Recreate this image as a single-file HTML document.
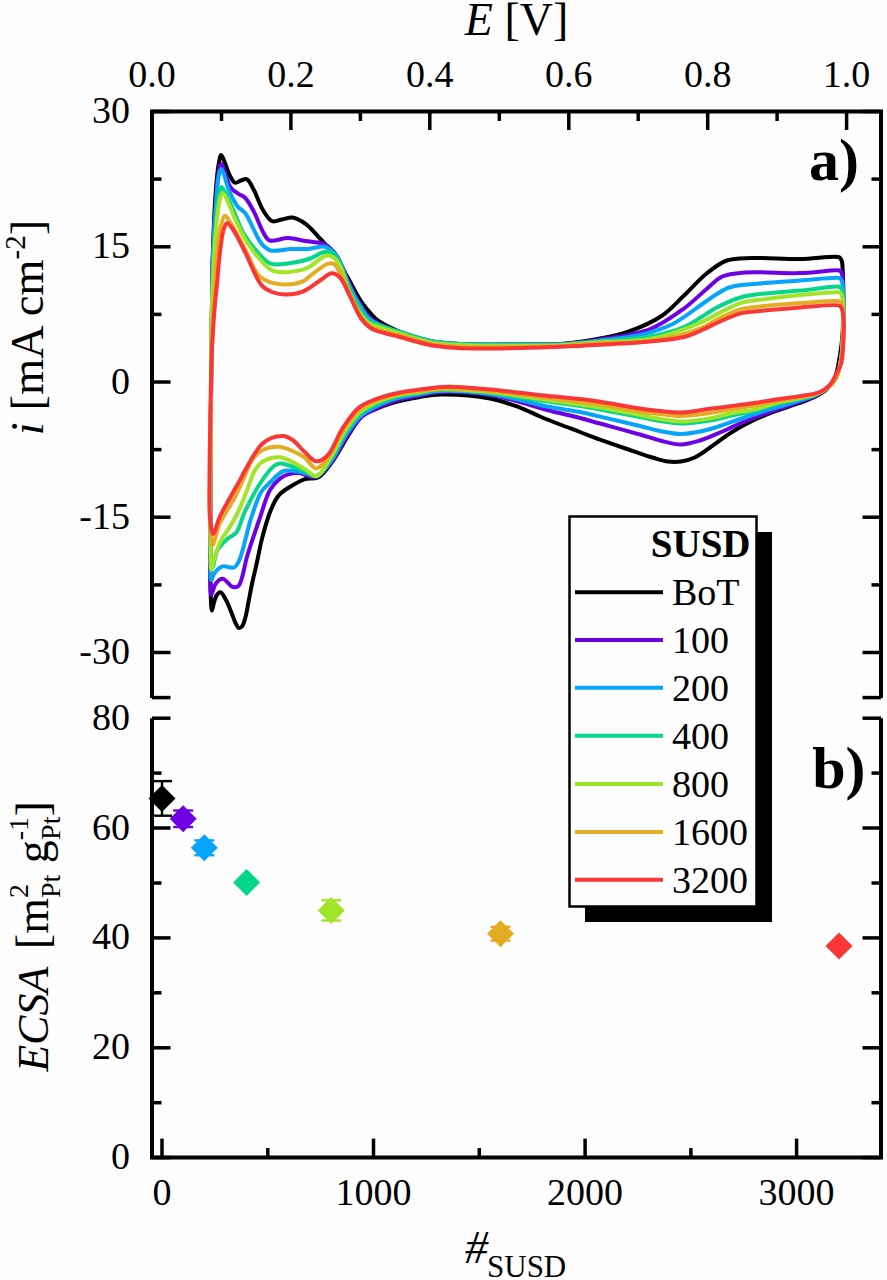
<!DOCTYPE html>
<html><head><meta charset="utf-8"><style>
html,body{margin:0;padding:0;background:#fdfdfd;width:887px;height:1280px;overflow:hidden}
svg{display:block;font-family:"Liberation Serif",serif}
</style></head><body>
<svg width="887" height="1280" viewBox="0 0 887 1280">
<rect width="887" height="1280" fill="#fdfdfd"/>
<g fill="none" stroke-width="4" stroke-linejoin="round" stroke-linecap="round">
<path stroke="#000000" d="M211.90,610.60 C211.10,610.53 210.88,599.04 210.60,592.00 C210.23,582.78 210.34,573.07 210.30,560.00 C210.23,539.34 210.38,506.67 210.50,480.00 C210.62,453.33 210.78,426.67 211.00,400.00 C211.22,373.33 211.45,345.78 211.80,320.00 C212.13,295.89 212.31,271.92 213.00,250.00 C213.61,230.56 214.37,210.56 215.50,195.00 C216.34,183.48 217.16,172.28 218.50,165.00 C219.28,160.73 220.06,155.10 221.20,155.00 C222.26,154.90 223.74,160.03 225.00,163.00 C226.51,166.57 227.63,171.54 229.50,175.00 C231.12,178.01 233.02,182.17 235.20,182.80 C236.95,183.31 239.02,181.08 241.00,180.50 C242.96,179.92 245.16,178.51 247.00,179.30 C249.71,180.46 251.74,186.14 254.10,190.50 C257.12,196.08 259.68,204.86 263.10,210.30 C265.86,214.69 268.69,219.91 272.20,221.20 C275.14,222.28 278.67,220.10 282.00,219.50 C285.47,218.87 288.95,217.00 292.60,217.50 C296.88,218.09 301.63,220.99 305.90,224.10 C310.93,227.77 315.62,233.92 320.30,238.90 C324.92,243.82 329.58,248.05 333.80,253.80 C338.67,260.42 342.83,268.99 347.30,276.80 C351.87,284.79 356.34,294.42 360.90,301.20 C364.49,306.54 368.39,311.14 371.70,314.70 C374.12,317.31 375.46,318.87 378.50,321.00 C383.17,324.27 390.55,327.95 398.00,331.00 C407.21,334.77 420.50,338.94 430.00,341.00 C437.37,342.60 443.16,342.92 450.00,343.50 C457.15,344.11 463.25,344.30 472.00,344.50 C484.92,344.79 504.73,344.60 520.00,344.50 C533.94,344.41 546.70,344.99 560.00,344.00 C573.36,343.00 587.95,340.74 600.00,338.50 C610.10,336.62 618.11,335.32 627.60,332.00 C638.51,328.19 651.77,322.52 661.50,316.00 C670.27,310.13 676.55,302.52 684.00,295.50 C691.58,288.36 698.96,279.57 706.60,273.50 C713.28,268.20 719.46,263.09 726.90,260.50 C734.47,257.87 742.05,258.38 751.70,258.00 C765.13,257.46 784.84,259.24 800.00,259.00 C813.51,258.79 833.43,255.64 838.30,257.00 C839.58,257.36 839.91,257.78 840.50,258.50 C841.21,259.36 841.63,260.50 842.00,262.00 C842.60,264.44 842.60,267.82 842.80,272.00 C843.14,278.98 843.32,290.15 843.30,300.00 C843.27,311.02 843.24,324.97 842.50,335.00 C841.94,342.61 841.18,348.17 840.00,355.00 C838.73,362.31 837.65,371.45 835.00,377.50 C832.93,382.22 830.28,385.84 827.00,389.00 C823.76,392.12 819.86,394.14 815.50,396.40 C810.36,399.06 804.12,401.18 797.90,403.50 C791.03,406.06 783.27,408.27 776.00,411.00 C768.63,413.77 761.24,416.56 754.00,420.00 C746.57,423.53 739.21,427.52 732.00,432.00 C724.53,436.65 716.71,442.95 710.00,447.50 C704.47,451.25 699.84,455.14 694.70,457.50 C690.16,459.59 685.55,460.85 681.00,461.50 C676.65,462.12 672.38,462.04 668.00,461.50 C663.39,460.93 659.39,459.57 654.00,458.00 C646.43,455.80 635.99,452.06 627.00,449.00 C617.99,445.93 608.31,442.62 600.00,439.60 C592.81,436.98 586.67,434.52 580.00,432.00 C573.34,429.48 566.65,427.08 560.00,424.50 C553.32,421.91 546.64,419.30 540.00,416.50 C533.31,413.67 527.44,410.37 520.00,407.60 C511.10,404.29 501.40,400.66 490.00,398.50 C475.58,395.77 452.90,394.21 440.00,394.50 C431.82,394.68 427.20,395.78 420.00,397.00 C411.42,398.45 400.10,400.60 392.00,403.00 C385.55,404.91 380.23,407.20 375.00,409.50 C370.32,411.56 366.01,412.54 362.00,416.00 C356.80,420.49 352.72,428.82 348.00,436.00 C342.73,444.03 337.50,454.66 332.00,462.00 C327.45,468.07 323.12,474.84 318.00,477.50 C313.95,479.61 309.31,477.78 305.00,479.10 C300.27,480.55 295.32,483.55 290.90,486.30 C286.57,489.00 282.03,491.53 278.70,495.40 C275.16,499.52 272.82,505.43 270.60,510.60 C268.45,515.60 267.04,520.79 265.50,525.90 C263.98,530.95 262.72,535.61 261.40,541.10 C259.87,547.49 258.54,554.95 257.00,562.00 C255.41,569.25 253.47,577.02 252.00,584.00 C250.67,590.29 249.63,596.27 248.50,602.00 C247.47,607.23 246.70,612.67 245.50,617.00 C244.56,620.42 243.77,624.19 242.30,626.00 C241.36,627.15 240.02,628.22 239.00,628.00 C237.71,627.73 236.57,625.00 235.50,623.00 C234.14,620.44 233.28,617.09 231.90,613.70 C230.21,609.56 228.13,603.84 226.00,600.00 C224.30,596.94 222.42,592.46 220.60,592.20 C219.24,592.00 217.56,594.01 216.50,595.50 C215.24,597.28 214.75,600.06 214.00,602.50 C213.21,605.08 212.44,610.65 211.90,610.60 Z"/>
<path stroke="#6e00e4" d="M211.30,595.00 C210.15,594.81 210.67,582.60 210.50,575.00 C210.27,564.96 210.32,553.23 210.30,540.00 C210.28,522.68 210.40,501.44 210.50,480.00 C210.62,455.25 210.78,426.67 211.00,400.00 C211.22,373.33 211.45,345.78 211.80,320.00 C212.13,295.89 212.18,271.37 213.00,250.00 C213.70,231.93 214.89,214.26 216.00,200.00 C216.84,189.31 217.39,178.46 218.70,172.00 C219.41,168.48 220.16,164.04 221.20,164.00 C222.49,163.95 224.41,172.02 226.00,176.00 C227.58,179.95 228.38,184.71 230.70,187.80 C232.79,190.58 236.21,192.37 238.80,194.10 C240.98,195.56 243.05,195.73 245.10,197.70 C248.23,200.71 251.27,206.81 254.10,212.10 C257.31,218.10 260.12,226.91 263.10,232.00 C265.14,235.49 266.06,238.93 269.20,240.30 C273.49,242.17 282.16,237.92 288.30,238.10 C294.07,238.27 299.40,240.10 305.00,241.00 C310.64,241.90 317.50,241.96 322.00,243.50 C325.29,244.62 327.55,245.96 330.00,248.00 C332.77,250.31 335.03,253.05 337.50,257.00 C341.24,262.98 344.69,273.55 348.50,281.50 C352.20,289.21 355.96,297.53 360.00,304.00 C363.36,309.38 366.90,314.50 370.50,318.00 C373.27,320.70 375.46,322.09 379.00,324.00 C383.95,326.68 390.78,329.01 398.00,331.50 C407.22,334.68 420.51,339.01 430.00,341.00 C437.38,342.54 443.16,342.92 450.00,343.50 C457.15,344.11 463.25,344.30 472.00,344.50 C484.92,344.79 504.73,344.56 520.00,344.50 C533.94,344.45 546.69,345.03 560.00,344.20 C573.36,343.37 585.96,341.79 600.00,339.50 C615.84,336.92 635.54,334.78 650.20,329.00 C663.07,323.92 674.12,315.68 684.00,308.50 C692.58,302.26 699.70,294.72 706.60,289.00 C712.26,284.31 716.19,279.26 722.30,276.50 C728.83,273.55 735.67,273.26 744.90,272.50 C759.20,271.32 783.41,273.63 800.00,273.10 C813.71,272.66 832.01,269.79 837.50,270.30 C839.08,270.45 839.73,270.47 840.50,271.10 C841.36,271.81 841.79,273.15 842.20,274.60 C842.79,276.68 842.81,279.42 843.00,282.60 C843.27,287.28 843.27,293.20 843.30,300.00 C843.34,309.65 843.47,324.32 843.00,335.00 C842.60,344.04 842.35,352.41 841.00,360.00 C839.84,366.55 838.60,373.10 836.00,378.00 C833.82,382.11 830.86,385.07 827.50,388.00 C823.93,391.12 820.05,393.51 815.00,396.00 C808.25,399.33 798.72,401.90 790.00,405.00 C780.46,408.39 768.96,412.14 760.00,415.50 C752.63,418.26 746.64,420.68 740.00,423.50 C733.30,426.34 726.70,429.66 720.00,432.50 C713.36,435.32 706.67,438.48 700.00,440.50 C693.67,442.42 687.50,444.44 681.00,444.50 C674.18,444.57 666.87,442.18 660.00,440.50 C653.21,438.84 647.83,436.75 640.00,434.50 C628.97,431.33 611.05,426.54 600.00,423.50 C592.19,421.35 587.51,419.94 580.00,418.00 C570.39,415.51 557.42,412.80 547.00,410.00 C537.52,407.45 529.27,404.45 520.00,402.00 C510.30,399.43 501.35,396.65 490.00,395.00 C475.53,392.89 452.88,391.27 440.00,392.00 C431.80,392.47 427.09,394.13 420.00,395.50 C411.89,397.07 401.88,398.53 394.00,401.00 C387.06,403.17 380.66,406.19 375.00,409.00 C370.17,411.40 366.15,412.87 362.00,416.50 C356.69,421.15 351.84,428.88 347.00,436.00 C341.63,443.90 336.97,454.84 331.50,462.00 C327.04,467.84 321.49,474.56 317.50,476.50 C315.33,477.55 313.91,477.34 311.60,477.10 C308.14,476.75 302.99,473.48 298.90,473.10 C295.22,472.76 291.45,473.40 288.20,474.40 C285.20,475.32 282.67,476.52 280.00,478.60 C276.57,481.27 272.94,485.03 270.00,490.00 C265.91,496.91 263.45,507.60 260.00,517.50 C255.99,529.01 251.22,543.06 247.50,555.00 C244.14,565.79 242.49,582.40 238.50,586.00 C236.84,587.50 235.00,587.49 233.00,587.00 C229.91,586.24 225.66,578.84 222.50,578.80 C219.94,578.77 217.31,581.61 215.50,584.00 C213.40,586.78 212.18,595.14 211.30,595.00 Z"/>
<path stroke="#06a4fa" d="M211.30,580.00 C210.14,579.77 210.67,567.34 210.50,560.00 C210.29,551.01 210.32,541.27 210.30,530.00 C210.28,515.45 210.40,498.62 210.50,480.00 C210.62,456.45 210.78,426.67 211.00,400.00 C211.22,373.33 211.44,345.28 211.80,320.00 C212.12,297.21 212.21,275.24 213.00,255.00 C213.70,237.23 214.90,219.40 216.00,205.00 C216.84,194.02 217.31,182.34 218.70,176.00 C219.41,172.77 220.10,168.91 221.20,168.90 C223.20,168.89 226.69,185.55 229.80,192.30 C232.34,197.80 234.94,203.06 237.90,206.70 C240.15,209.47 242.82,210.11 245.10,213.00 C248.35,217.12 251.63,225.38 254.10,230.20 C255.88,233.67 256.95,236.47 258.60,239.20 C260.11,241.69 261.49,244.12 263.50,246.00 C265.52,247.89 267.52,249.70 270.70,250.50 C275.65,251.74 284.51,249.40 291.20,249.10 C297.60,248.81 304.21,249.21 310.00,248.70 C315.03,248.25 320.21,245.91 324.00,246.50 C326.82,246.94 328.80,248.26 331.00,250.00 C333.70,252.13 336.15,255.04 338.50,259.00 C341.99,264.88 344.46,275.26 348.00,283.00 C351.47,290.59 355.57,298.61 359.50,305.00 C362.77,310.32 365.82,315.65 369.50,319.00 C372.44,321.67 375.20,322.72 379.00,324.50 C384.16,326.92 390.80,329.11 398.00,331.50 C407.24,334.57 420.51,339.01 430.00,341.00 C437.38,342.54 443.16,342.92 450.00,343.50 C457.15,344.11 463.25,344.30 472.00,344.50 C484.92,344.79 504.73,344.52 520.00,344.50 C533.94,344.48 546.68,345.06 560.00,344.40 C573.35,343.73 586.68,342.06 600.00,340.50 C613.35,338.93 627.47,337.94 640.00,335.00 C651.58,332.28 662.05,329.28 672.70,324.00 C684.30,318.25 696.37,307.53 706.60,301.00 C714.79,295.77 720.67,290.43 729.10,287.50 C738.29,284.30 749.02,284.61 760.00,283.50 C772.46,282.24 786.88,281.57 800.00,280.60 C812.70,279.67 832.01,277.29 837.50,277.80 C839.08,277.95 839.73,277.97 840.50,278.60 C841.36,279.31 841.79,280.65 842.20,282.10 C842.79,284.18 842.81,286.34 843.00,290.10 C843.44,298.98 843.51,322.22 843.00,335.00 C842.62,344.55 842.35,352.41 841.00,360.00 C839.84,366.55 838.60,373.10 836.00,378.00 C833.82,382.11 830.88,385.13 827.50,388.00 C823.94,391.02 820.04,393.22 815.00,395.50 C808.24,398.56 798.73,400.80 790.00,403.50 C780.47,406.45 768.98,409.70 760.00,412.50 C752.65,414.80 746.65,416.75 740.00,419.00 C733.32,421.25 726.70,423.91 720.00,426.00 C713.37,428.07 706.63,430.16 700.00,431.50 C693.63,432.79 687.49,434.04 681.00,434.00 C674.17,433.96 666.88,432.35 660.00,431.00 C653.22,429.67 647.82,427.90 640.00,426.00 C628.96,423.32 611.05,419.17 600.00,416.60 C592.19,414.78 587.52,413.49 580.00,412.00 C570.40,410.10 557.41,408.62 547.00,406.50 C537.51,404.57 529.26,402.04 520.00,400.00 C510.28,397.86 501.33,395.47 490.00,394.00 C475.51,392.12 452.89,390.43 440.00,391.00 C431.81,391.36 427.09,392.79 420.00,394.00 C411.89,395.39 401.88,396.61 394.00,399.00 C387.05,401.11 380.75,404.06 375.00,407.00 C369.87,409.62 365.40,411.56 361.00,415.50 C355.60,420.33 350.78,427.86 346.00,435.00 C340.73,442.89 336.35,453.77 331.00,461.00 C326.57,466.98 322.27,474.44 317.00,476.00 C312.39,477.36 307.13,473.04 301.80,472.20 C296.07,471.30 289.01,469.26 283.70,471.00 C278.42,472.73 273.96,478.73 270.00,482.50 C266.63,485.71 263.86,487.74 261.20,492.00 C257.33,498.19 254.57,507.77 251.30,517.50 C247.08,530.05 242.84,553.51 238.80,561.30 C237.11,564.56 236.14,566.53 233.80,567.50 C231.00,568.66 225.76,565.31 222.50,566.30 C219.37,567.25 216.40,570.51 214.50,573.00 C212.87,575.14 212.02,580.14 211.30,580.00 Z"/>
<path stroke="#06d68a" d="M212.50,567.50 C211.34,567.39 211.17,555.09 210.80,548.00 C210.35,539.52 210.37,530.16 210.30,520.00 C210.22,507.85 210.41,495.62 210.50,480.00 C210.62,457.91 210.78,426.67 211.00,400.00 C211.22,373.33 211.33,344.75 211.80,320.00 C212.21,298.56 212.62,278.56 213.50,260.00 C214.26,243.92 215.37,227.16 216.50,215.00 C217.27,206.67 217.78,199.10 219.00,194.00 C219.73,190.95 220.43,187.01 221.60,186.90 C222.98,186.77 225.09,192.21 227.00,195.90 C229.80,201.32 233.24,210.11 236.10,216.60 C238.64,222.36 240.02,227.35 243.30,232.90 C247.25,239.59 253.88,248.03 259.00,253.50 C262.97,257.74 265.63,261.96 270.70,263.70 C277.12,265.90 288.48,263.43 295.60,262.30 C301.10,261.43 305.31,260.19 310.00,258.50 C314.78,256.78 319.76,252.69 324.00,252.00 C327.25,251.47 330.56,251.51 333.00,253.00 C335.67,254.62 336.97,258.18 339.00,262.00 C342.09,267.79 345.15,277.46 348.50,285.00 C351.82,292.46 355.22,300.71 359.00,307.00 C362.14,312.22 365.23,317.46 369.00,320.50 C372.05,322.95 375.09,323.46 379.00,325.00 C384.29,327.09 390.82,329.21 398.00,331.50 C407.26,334.46 420.51,339.01 430.00,341.00 C437.38,342.54 443.16,342.92 450.00,343.50 C457.15,344.11 463.25,344.29 472.00,344.50 C484.92,344.81 504.73,344.58 520.00,344.60 C533.94,344.61 546.68,345.12 560.00,344.60 C573.34,344.08 585.93,342.75 600.00,341.50 C615.75,340.10 635.04,339.32 650.00,336.50 C662.54,334.14 672.98,331.70 684.00,327.00 C695.62,322.04 707.50,312.18 717.80,307.00 C725.94,302.91 733.02,299.68 740.40,297.50 C747.05,295.53 752.29,295.01 760.00,294.00 C770.95,292.56 786.89,291.86 800.00,290.60 C812.71,289.38 832.00,286.18 837.50,286.60 C839.08,286.72 839.73,286.77 840.50,287.40 C841.36,288.11 841.79,289.45 842.20,290.90 C842.79,292.98 842.82,295.27 843.00,298.90 C843.38,306.60 843.44,324.08 843.00,335.00 C842.64,344.10 842.35,352.41 841.00,360.00 C839.84,366.55 838.60,373.10 836.00,378.00 C833.82,382.11 830.90,385.20 827.50,388.00 C823.95,390.92 819.63,393.20 815.00,395.00 C809.89,396.99 804.03,397.60 798.00,399.00 C791.14,400.59 783.29,402.02 776.00,404.00 C768.62,406.01 761.38,409.08 754.00,411.00 C746.72,412.90 739.32,413.92 732.00,415.50 C724.66,417.08 717.88,419.20 710.00,420.50 C701.04,421.98 689.88,423.57 681.00,423.50 C673.43,423.44 666.89,422.10 660.00,421.00 C653.23,419.92 647.82,418.51 640.00,417.00 C628.96,414.86 611.05,411.50 600.00,409.50 C592.19,408.09 587.65,407.20 580.00,406.00 C569.76,404.39 554.78,402.56 544.00,401.00 C535.19,399.73 528.45,398.65 520.00,397.40 C510.56,396.00 501.30,394.17 490.00,393.00 C475.48,391.50 452.89,389.43 440.00,390.00 C431.81,390.36 427.10,391.85 420.00,393.00 C411.89,394.31 401.89,395.29 394.00,397.50 C387.06,399.45 380.79,402.09 375.00,405.00 C369.71,407.66 365.04,409.94 360.50,414.00 C355.09,418.83 350.23,425.90 345.50,433.00 C340.16,441.02 335.84,452.41 330.50,460.00 C326.07,466.30 321.70,474.79 316.50,476.00 C312.00,477.05 307.24,471.82 301.80,469.90 C295.30,467.61 284.92,463.27 280.00,463.50 C277.42,463.62 276.30,464.26 274.20,465.80 C270.36,468.62 265.32,475.57 261.00,482.00 C255.54,490.12 249.33,502.21 245.00,511.30 C241.41,518.83 240.01,527.81 236.30,532.50 C233.75,535.72 230.39,536.21 227.50,538.80 C224.10,541.85 219.97,545.52 217.50,550.00 C214.78,554.93 213.62,567.61 212.50,567.50 Z"/>
<path stroke="#a2e428" d="M211.30,570.00 C210.41,569.90 210.67,553.71 210.50,545.00 C210.32,535.46 210.30,525.39 210.30,515.00 C210.29,503.78 210.42,494.04 210.50,480.00 C210.63,458.77 210.83,426.67 211.00,400.00 C211.17,373.33 210.96,343.54 211.50,320.00 C211.93,301.38 212.69,285.73 213.50,270.00 C214.22,255.92 214.91,242.13 216.00,230.00 C216.92,219.82 217.74,208.69 219.30,202.00 C220.21,198.11 220.92,193.09 222.50,193.00 C225.36,192.85 232.01,212.86 236.10,221.20 C239.38,227.88 241.59,233.40 245.10,239.20 C248.70,245.15 252.79,251.13 257.50,256.40 C262.27,261.74 266.83,268.57 273.60,271.00 C281.47,273.82 296.54,271.09 302.90,269.60 C306.17,268.84 307.23,268.01 310.00,266.50 C314.39,264.10 321.64,256.39 326.20,255.70 C329.15,255.25 331.78,256.46 334.00,258.00 C336.46,259.71 338.11,262.46 340.00,266.00 C342.94,271.53 344.96,281.59 348.00,289.00 C350.97,296.24 354.29,304.08 358.00,310.00 C361.08,314.91 364.17,319.64 368.00,322.50 C371.30,324.97 374.80,325.48 379.00,327.00 C384.44,328.97 390.84,330.81 398.00,333.00 C407.27,335.84 420.50,340.63 430.00,342.50 C437.37,343.95 443.17,344.00 450.00,344.50 C457.15,345.02 463.25,345.27 472.00,345.50 C484.92,345.83 504.73,345.87 520.00,345.80 C533.94,345.74 546.68,345.78 560.00,345.20 C573.34,344.62 585.92,343.27 600.00,342.30 C615.74,341.21 633.91,341.97 650.00,339.00 C665.65,336.11 680.44,330.87 695.30,325.00 C710.58,318.97 728.22,306.99 740.40,303.10 C748.07,300.65 752.30,300.91 760.00,299.80 C770.97,298.22 786.87,296.28 800.00,295.00 C812.69,293.77 832.01,291.69 837.50,292.20 C839.08,292.35 839.73,292.37 840.50,293.00 C841.36,293.71 841.79,295.05 842.20,296.50 C842.79,298.58 842.82,300.97 843.00,304.50 C843.34,311.38 843.39,325.35 843.00,335.00 C842.65,343.75 842.35,352.41 841.00,360.00 C839.84,366.55 838.60,373.10 836.00,378.00 C833.82,382.11 830.92,385.28 827.50,388.00 C823.96,390.82 819.60,392.79 815.00,394.50 C809.87,396.40 804.04,397.17 798.00,398.50 C791.15,400.01 783.29,401.16 776.00,403.00 C768.62,404.86 761.39,407.93 754.00,409.60 C746.72,411.25 739.30,411.54 732.00,413.00 C724.63,414.47 717.89,417.02 710.00,418.40 C701.05,419.97 689.89,421.55 681.00,421.50 C673.43,421.45 666.89,420.10 660.00,419.00 C653.23,417.92 647.82,416.51 640.00,415.00 C628.96,412.86 611.06,409.37 600.00,407.50 C592.20,406.18 587.64,405.60 580.00,404.50 C569.75,403.02 554.79,401.04 544.00,399.50 C535.19,398.25 528.45,397.18 520.00,396.00 C510.56,394.68 501.29,393.09 490.00,392.00 C475.47,390.60 452.89,388.43 440.00,389.00 C431.81,389.36 427.10,390.92 420.00,392.00 C411.90,393.23 401.90,393.96 394.00,396.00 C387.07,397.79 380.84,400.20 375.00,403.00 C369.57,405.60 364.66,407.90 360.00,412.00 C354.52,416.82 349.72,423.86 345.00,431.00 C339.63,439.12 335.21,450.50 330.00,458.50 C325.59,465.27 320.88,475.50 316.30,476.30 C312.97,476.88 310.51,472.25 306.30,469.90 C299.70,466.22 288.07,458.07 280.00,457.30 C273.56,456.68 266.48,459.09 262.00,462.00 C258.29,464.41 256.14,468.26 254.00,472.00 C251.76,475.90 250.75,480.48 249.00,485.00 C247.09,489.94 245.30,495.08 243.00,500.50 C240.39,506.67 237.57,513.38 234.00,520.00 C230.04,527.35 223.47,535.29 220.00,542.50 C217.10,548.54 215.32,554.95 213.80,560.00 C212.66,563.77 211.87,570.06 211.30,570.00 Z"/>
<path stroke="#e4ac22" d="M212.50,545.00 C211.00,544.83 210.76,532.05 210.30,525.00 C209.79,517.14 209.83,509.31 209.80,500.00 C209.76,488.23 210.12,474.68 210.30,460.00 C210.52,442.02 210.66,420.77 211.00,400.00 C211.37,377.56 211.74,351.37 212.50,330.00 C213.15,311.93 214.03,294.54 215.00,280.00 C215.75,268.72 216.49,259.21 217.50,250.00 C218.37,242.09 219.01,234.21 220.50,228.00 C221.64,223.24 222.94,216.03 224.80,215.70 C226.27,215.44 228.00,219.07 230.00,222.00 C233.80,227.55 239.41,238.77 244.30,247.60 C249.52,257.03 253.30,270.87 260.40,276.90 C266.14,281.78 273.94,283.46 281.00,284.20 C288.10,284.94 297.78,283.38 302.90,281.30 C306.14,279.98 307.08,278.10 310.00,276.00 C314.54,272.74 323.00,265.16 327.60,263.80 C330.11,263.06 332.16,262.97 334.00,264.00 C336.33,265.30 337.60,268.97 339.60,272.50 C342.60,277.78 346.16,286.04 349.50,293.00 C352.96,300.20 356.16,309.13 360.00,315.00 C362.96,319.54 365.84,323.30 369.50,326.00 C372.90,328.50 376.72,329.58 381.00,331.00 C386.05,332.68 391.46,333.36 398.00,335.00 C407.01,337.26 420.53,341.66 430.00,343.50 C437.39,344.94 443.16,345.42 450.00,346.00 C457.15,346.61 463.25,346.80 472.00,347.00 C484.92,347.29 504.73,347.19 520.00,347.00 C533.94,346.83 546.67,346.62 560.00,346.00 C573.34,345.38 585.92,344.10 600.00,343.30 C615.73,342.41 633.45,343.42 650.00,341.00 C666.79,338.54 687.07,333.39 700.00,328.50 C708.80,325.17 714.24,320.75 721.20,317.50 C727.69,314.47 733.85,311.34 740.40,309.50 C746.79,307.71 752.30,307.42 760.00,306.50 C770.96,305.20 786.88,304.03 800.00,303.10 C812.70,302.21 832.01,300.44 837.50,301.00 C839.08,301.16 839.73,301.17 840.50,301.80 C841.36,302.51 841.79,303.85 842.20,305.30 C842.79,307.38 842.83,309.98 843.00,313.30 C843.27,318.76 843.30,327.52 843.00,335.00 C842.68,343.04 842.35,352.41 841.00,360.00 C839.84,366.55 838.60,373.10 836.00,378.00 C833.82,382.11 830.94,385.35 827.50,388.00 C823.97,390.72 819.59,392.45 815.00,394.00 C809.86,395.73 804.04,396.40 798.00,397.50 C791.15,398.75 783.32,399.67 776.00,401.00 C768.65,402.34 761.35,404.16 754.00,405.50 C746.68,406.83 739.33,407.75 732.00,409.00 C724.66,410.25 717.86,411.88 710.00,413.00 C701.02,414.28 689.89,415.96 681.00,416.00 C673.44,416.03 666.91,414.76 660.00,414.00 C653.25,413.26 647.79,412.67 640.00,411.50 C628.94,409.84 611.06,406.16 600.00,404.50 C592.21,403.33 587.64,402.95 580.00,402.00 C569.75,400.72 554.79,398.85 544.00,397.50 C535.19,396.40 528.45,395.52 520.00,394.50 C510.56,393.36 500.85,391.96 490.00,391.00 C477.19,389.87 460.58,388.31 448.00,388.50 C437.72,388.65 428.96,389.95 420.00,391.00 C411.68,391.98 403.67,392.77 396.00,394.50 C388.70,396.15 381.33,398.23 375.00,401.00 C369.29,403.50 364.32,405.89 359.50,410.00 C353.86,414.81 348.87,421.81 344.00,429.00 C338.44,437.21 333.94,450.03 328.50,457.00 C324.57,462.03 320.30,468.38 316.30,468.40 C312.47,468.41 308.71,460.77 305.00,458.00 C301.90,455.68 299.43,454.18 295.80,452.50 C291.11,450.34 284.31,447.26 278.90,446.80 C274.09,446.39 269.20,447.17 265.00,449.00 C260.72,450.86 256.84,453.83 253.50,458.00 C249.18,463.38 246.31,473.03 243.00,480.00 C240.01,486.30 237.87,491.58 234.50,498.00 C230.44,505.73 223.75,514.75 220.00,523.00 C216.63,530.40 214.11,545.18 212.50,545.00 Z"/>
<path stroke="#fa3636" d="M213.10,534.00 C211.52,533.85 210.66,524.15 210.00,517.50 C209.01,507.56 209.50,493.96 209.50,480.00 C209.50,462.34 209.97,440.00 210.30,420.00 C210.63,400.00 210.92,376.56 211.50,360.00 C211.91,348.28 212.39,339.64 213.00,330.00 C213.57,321.02 214.25,312.49 215.00,304.00 C215.72,295.84 216.76,287.07 217.40,280.00 C217.90,274.42 218.07,270.44 218.60,265.00 C219.24,258.47 220.17,249.82 221.10,243.50 C221.84,238.47 222.26,233.64 223.50,230.00 C224.42,227.29 225.53,223.55 227.00,223.30 C228.40,223.06 230.18,225.64 232.00,228.00 C235.52,232.55 239.92,242.12 244.30,250.50 C249.73,260.88 255.87,279.07 261.90,285.70 C265.22,289.34 268.25,290.54 272.00,292.00 C276.00,293.56 280.55,294.45 285.30,294.50 C290.75,294.56 297.23,293.79 302.90,291.60 C309.10,289.20 315.57,283.32 320.80,280.00 C324.84,277.44 328.20,273.47 331.60,273.30 C334.48,273.15 337.25,274.83 339.80,277.30 C343.85,281.21 347.04,290.72 350.60,297.60 C354.24,304.62 357.42,313.59 361.40,319.00 C364.36,323.02 367.17,325.88 370.90,328.20 C374.79,330.61 379.86,331.61 384.40,333.00 C388.89,334.37 392.51,335.07 398.00,336.50 C406.42,338.70 420.53,343.16 430.00,345.00 C437.39,346.44 443.16,346.92 450.00,347.50 C457.15,348.11 463.25,348.35 472.00,348.50 C484.92,348.73 504.73,348.31 520.00,348.00 C533.94,347.72 546.67,347.33 560.00,346.80 C573.34,346.27 585.91,345.62 600.00,344.80 C615.79,343.89 635.14,343.00 650.20,341.50 C662.60,340.27 674.78,339.35 684.00,337.00 C690.72,335.29 695.31,332.89 700.90,330.50 C706.58,328.07 711.64,325.17 717.80,322.50 C724.99,319.38 733.97,314.99 741.50,313.10 C747.94,311.49 752.65,311.74 760.00,311.00 C770.79,309.92 786.80,308.44 800.00,307.50 C812.90,306.58 833.17,304.21 838.30,305.40 C839.70,305.73 840.14,306.05 840.80,306.80 C841.63,307.75 842.05,309.15 842.50,311.00 C843.29,314.26 843.65,319.84 843.80,325.00 C843.99,331.35 843.57,339.64 843.10,346.30 C842.68,352.21 842.67,358.06 841.30,363.00 C840.11,367.27 837.88,370.73 836.00,374.40 C834.18,377.96 832.82,381.80 830.20,384.70 C827.50,387.70 824.22,390.14 819.90,392.00 C814.14,394.48 805.24,395.15 797.90,396.40 C790.61,397.64 783.30,398.40 776.00,399.50 C768.67,400.60 761.34,401.92 754.00,403.00 C746.67,404.08 739.34,405.03 732.00,406.00 C724.67,406.97 717.84,407.79 710.00,408.80 C701.00,409.96 689.90,412.36 681.00,412.60 C673.45,412.80 666.91,411.69 660.00,411.00 C653.24,410.32 647.80,409.64 640.00,408.50 C628.94,406.88 611.06,403.47 600.00,401.80 C592.20,400.62 587.65,400.00 580.00,399.10 C569.76,397.90 554.78,396.67 544.00,395.50 C535.19,394.55 528.45,393.64 520.00,392.70 C510.56,391.65 500.82,390.43 490.00,389.50 C477.30,388.41 461.03,386.62 448.50,386.80 C438.10,386.95 428.89,388.38 420.00,389.50 C412.12,390.49 405.22,391.35 397.80,393.00 C390.12,394.71 381.56,397.01 374.70,399.70 C368.82,402.00 363.77,403.66 358.90,407.60 C353.07,412.32 348.08,419.98 343.10,427.40 C337.46,435.81 333.00,450.35 327.30,455.80 C323.80,459.15 319.96,461.71 316.30,461.30 C312.09,460.83 307.69,454.59 303.70,451.00 C299.79,447.48 296.48,442.52 292.60,440.00 C289.39,437.91 286.49,436.17 282.60,436.10 C277.25,436.00 269.07,438.40 263.40,442.80 C256.23,448.37 249.54,462.97 245.40,469.90 C242.94,474.01 242.39,475.60 240.00,480.00 C235.46,488.37 224.72,506.22 220.00,516.30 C216.81,523.13 214.78,534.16 213.10,534.00 Z"/>
</g>
<g stroke="#000" stroke-width="4" fill="none" stroke-linecap="butt">
<path d="M152,698 L152,111.5 L881,111.5 L881,698" stroke-linejoin="miter"/>
<line x1="152.0" y1="111.5" x2="152.0" y2="130.0" stroke-width="3.5"/>
<line x1="221.5" y1="111.5" x2="221.5" y2="121.0" stroke-width="3.5"/>
<line x1="290.9" y1="111.5" x2="290.9" y2="130.0" stroke-width="3.5"/>
<line x1="360.4" y1="111.5" x2="360.4" y2="121.0" stroke-width="3.5"/>
<line x1="429.8" y1="111.5" x2="429.8" y2="130.0" stroke-width="3.5"/>
<line x1="499.3" y1="111.5" x2="499.3" y2="121.0" stroke-width="3.5"/>
<line x1="568.8" y1="111.5" x2="568.8" y2="130.0" stroke-width="3.5"/>
<line x1="638.2" y1="111.5" x2="638.2" y2="121.0" stroke-width="3.5"/>
<line x1="707.7" y1="111.5" x2="707.7" y2="130.0" stroke-width="3.5"/>
<line x1="777.1" y1="111.5" x2="777.1" y2="121.0" stroke-width="3.5"/>
<line x1="846.6" y1="111.5" x2="846.6" y2="130.0" stroke-width="3.5"/>
<line x1="152" y1="652.5" x2="170.5" y2="652.5" stroke-width="3.5"/>
<line x1="881" y1="652.5" x2="862.5" y2="652.5" stroke-width="3.5"/>
<line x1="152" y1="584.9" x2="161.5" y2="584.9" stroke-width="3.5"/>
<line x1="881" y1="584.9" x2="871.5" y2="584.9" stroke-width="3.5"/>
<line x1="152" y1="517.2" x2="170.5" y2="517.2" stroke-width="3.5"/>
<line x1="881" y1="517.2" x2="862.5" y2="517.2" stroke-width="3.5"/>
<line x1="152" y1="449.6" x2="161.5" y2="449.6" stroke-width="3.5"/>
<line x1="881" y1="449.6" x2="871.5" y2="449.6" stroke-width="3.5"/>
<line x1="152" y1="382.0" x2="170.5" y2="382.0" stroke-width="3.5"/>
<line x1="881" y1="382.0" x2="862.5" y2="382.0" stroke-width="3.5"/>
<line x1="152" y1="314.4" x2="161.5" y2="314.4" stroke-width="3.5"/>
<line x1="881" y1="314.4" x2="871.5" y2="314.4" stroke-width="3.5"/>
<line x1="152" y1="246.8" x2="170.5" y2="246.8" stroke-width="3.5"/>
<line x1="881" y1="246.8" x2="862.5" y2="246.8" stroke-width="3.5"/>
<line x1="152" y1="179.1" x2="161.5" y2="179.1" stroke-width="3.5"/>
<line x1="881" y1="179.1" x2="871.5" y2="179.1" stroke-width="3.5"/>
<line x1="152" y1="111.5" x2="170.5" y2="111.5" stroke-width="3.5"/>
<line x1="881" y1="111.5" x2="862.5" y2="111.5" stroke-width="3.5"/>
<line x1="152" y1="697.6" x2="170.5" y2="697.6" stroke-width="3.5"/>
<line x1="881" y1="697.6" x2="862.5" y2="697.6" stroke-width="3.5"/>
</g>
<g stroke="#000" stroke-width="4" fill="none">
<path d="M152,718.3 L152,1157.6 L881,1157.6 L881,718.3" stroke-linejoin="miter"/>
<line x1="152" y1="1157.6" x2="170.5" y2="1157.6" stroke-width="3.5"/>
<line x1="881" y1="1157.6" x2="862.5" y2="1157.6" stroke-width="3.5"/>
<line x1="152" y1="1102.7" x2="161.5" y2="1102.7" stroke-width="3.5"/>
<line x1="881" y1="1102.7" x2="871.5" y2="1102.7" stroke-width="3.5"/>
<line x1="152" y1="1047.8" x2="170.5" y2="1047.8" stroke-width="3.5"/>
<line x1="881" y1="1047.8" x2="862.5" y2="1047.8" stroke-width="3.5"/>
<line x1="152" y1="992.8" x2="161.5" y2="992.8" stroke-width="3.5"/>
<line x1="881" y1="992.8" x2="871.5" y2="992.8" stroke-width="3.5"/>
<line x1="152" y1="937.9" x2="170.5" y2="937.9" stroke-width="3.5"/>
<line x1="881" y1="937.9" x2="862.5" y2="937.9" stroke-width="3.5"/>
<line x1="152" y1="883.0" x2="161.5" y2="883.0" stroke-width="3.5"/>
<line x1="881" y1="883.0" x2="871.5" y2="883.0" stroke-width="3.5"/>
<line x1="152" y1="828.0" x2="170.5" y2="828.0" stroke-width="3.5"/>
<line x1="881" y1="828.0" x2="862.5" y2="828.0" stroke-width="3.5"/>
<line x1="152" y1="773.1" x2="161.5" y2="773.1" stroke-width="3.5"/>
<line x1="881" y1="773.1" x2="871.5" y2="773.1" stroke-width="3.5"/>
<line x1="152" y1="718.2" x2="170.5" y2="718.2" stroke-width="3.5"/>
<line x1="881" y1="718.2" x2="862.5" y2="718.2" stroke-width="3.5"/>
<line x1="162.0" y1="1157.6" x2="162.0" y2="1138.6" stroke-width="3.5"/>
<line x1="267.8" y1="1157.6" x2="267.8" y2="1148.1" stroke-width="3.5"/>
<line x1="373.5" y1="1157.6" x2="373.5" y2="1138.6" stroke-width="3.5"/>
<line x1="479.3" y1="1157.6" x2="479.3" y2="1148.1" stroke-width="3.5"/>
<line x1="585.1" y1="1157.6" x2="585.1" y2="1138.6" stroke-width="3.5"/>
<line x1="690.9" y1="1157.6" x2="690.9" y2="1148.1" stroke-width="3.5"/>
<line x1="796.6" y1="1157.6" x2="796.6" y2="1138.6" stroke-width="3.5"/>
</g>
<g stroke="#000000" stroke-width="2.4"><line x1="162.0" y1="781.1" x2="162.0" y2="815.7"/><line x1="152.0" y1="781.1" x2="172.0" y2="781.1"/><line x1="152.0" y1="815.7" x2="172.0" y2="815.7"/></g>
<path fill="#000000" d="M162.0,784.9 L175.5,798.4 L162.0,811.9 L148.5,798.4 Z"/>
<g stroke="#6e00e4" stroke-width="2.4"><line x1="183.2" y1="810.5" x2="183.2" y2="827.0"/><line x1="173.2" y1="810.5" x2="193.2" y2="810.5"/><line x1="173.2" y1="827.0" x2="193.2" y2="827.0"/></g>
<path fill="#6e00e4" d="M183.2,805.2 L196.7,818.7 L183.2,832.2 L169.7,818.7 Z"/>
<g stroke="#06a4fa" stroke-width="2.4"><line x1="204.3" y1="840.4" x2="204.3" y2="855.2"/><line x1="194.3" y1="840.4" x2="214.3" y2="840.4"/><line x1="194.3" y1="855.2" x2="214.3" y2="855.2"/></g>
<path fill="#06a4fa" d="M204.3,834.3 L217.8,847.8 L204.3,861.3 L190.8,847.8 Z"/>
<path fill="#06d68a" d="M246.6,868.9 L260.1,882.4 L246.6,895.9 L233.1,882.4 Z"/>
<g stroke="#a2e428" stroke-width="2.4"><line x1="331.2" y1="900.3" x2="331.2" y2="920.5"/><line x1="321.2" y1="900.3" x2="341.2" y2="900.3"/><line x1="321.2" y1="920.5" x2="341.2" y2="920.5"/></g>
<path fill="#a2e428" d="M331.2,896.9 L344.7,910.4 L331.2,923.9 L317.7,910.4 Z"/>
<g stroke="#e4ac22" stroke-width="2.4"><line x1="500.5" y1="926.9" x2="500.5" y2="940.6"/><line x1="490.5" y1="926.9" x2="510.5" y2="926.9"/><line x1="490.5" y1="940.6" x2="510.5" y2="940.6"/></g>
<path fill="#e4ac22" d="M500.5,920.3 L514.0,933.8 L500.5,947.3 L487.0,933.8 Z"/>
<path fill="#fa3636" d="M839.0,932.6 L852.5,946.1 L839.0,959.6 L825.5,946.1 Z"/>
<rect x="585" y="532" width="187" height="390" fill="#000"/>
<rect x="569.5" y="516.5" width="187" height="390" fill="#fdfdfd" stroke="#000" stroke-width="2.5"/>
<line x1="575" y1="592.3" x2="663" y2="592.3" stroke="#000000" stroke-width="4"/>
<line x1="575" y1="640.1" x2="663" y2="640.1" stroke="#6e00e4" stroke-width="4"/>
<line x1="575" y1="687.8" x2="663" y2="687.8" stroke="#06a4fa" stroke-width="4"/>
<line x1="575" y1="735.8" x2="663" y2="735.8" stroke="#06d68a" stroke-width="4"/>
<line x1="575" y1="784.0" x2="663" y2="784.0" stroke="#a2e428" stroke-width="4"/>
<line x1="575" y1="831.9" x2="663" y2="831.9" stroke="#e4ac22" stroke-width="4"/>
<line x1="575" y1="879.7" x2="663" y2="879.7" stroke="#fa3636" stroke-width="4"/>
<g font-family="Liberation Serif, serif" fill="#000"><text x="152.0" y="87.0" font-size="38" text-anchor="middle" font-weight="normal" font-style="normal" >0.0</text><text x="290.9" y="87.0" font-size="38" text-anchor="middle" font-weight="normal" font-style="normal" >0.2</text><text x="429.8" y="87.0" font-size="38" text-anchor="middle" font-weight="normal" font-style="normal" >0.4</text><text x="568.8" y="87.0" font-size="38" text-anchor="middle" font-weight="normal" font-style="normal" >0.6</text><text x="707.7" y="87.0" font-size="38" text-anchor="middle" font-weight="normal" font-style="normal" >0.8</text><text x="846.6" y="87.0" font-size="38" text-anchor="middle" font-weight="normal" font-style="normal" >1.0</text><text x="130.0" y="123.0" font-size="38" text-anchor="end" font-weight="normal" font-style="normal" >30</text><text x="130.0" y="258.2" font-size="38" text-anchor="end" font-weight="normal" font-style="normal" >15</text><text x="130.0" y="393.5" font-size="38" text-anchor="end" font-weight="normal" font-style="normal" >0</text><text x="130.0" y="528.8" font-size="38" text-anchor="end" font-weight="normal" font-style="normal" >-15</text><text x="130.0" y="664.0" font-size="38" text-anchor="end" font-weight="normal" font-style="normal" >-30</text><text x="130.0" y="729.7" font-size="38" text-anchor="end" font-weight="normal" font-style="normal" >80</text><text x="130.0" y="839.5" font-size="38" text-anchor="end" font-weight="normal" font-style="normal" >60</text><text x="130.0" y="949.4" font-size="38" text-anchor="end" font-weight="normal" font-style="normal" >40</text><text x="130.0" y="1059.2" font-size="38" text-anchor="end" font-weight="normal" font-style="normal" >20</text><text x="130.0" y="1169.1" font-size="38" text-anchor="end" font-weight="normal" font-style="normal" >0</text><text x="162.0" y="1205.0" font-size="38" text-anchor="middle" font-weight="normal" font-style="normal" >0</text><text x="373.5" y="1205.0" font-size="38" text-anchor="middle" font-weight="normal" font-style="normal" >1000</text><text x="585.1" y="1205.0" font-size="38" text-anchor="middle" font-weight="normal" font-style="normal" >2000</text><text x="796.6" y="1205.0" font-size="38" text-anchor="middle" font-weight="normal" font-style="normal" >3000</text><text x="750.5" y="557.0" font-size="39" text-anchor="end" font-weight="bold" font-style="normal" >SUSD</text><text x="672.0" y="604.8" font-size="38" text-anchor="start" font-weight="normal" font-style="normal" >BoT</text><text x="672.0" y="652.8" font-size="38" text-anchor="start" font-weight="normal" font-style="normal" >100</text><text x="672.0" y="700.6" font-size="38" text-anchor="start" font-weight="normal" font-style="normal" >200</text><text x="672.0" y="748.8" font-size="38" text-anchor="start" font-weight="normal" font-style="normal" >400</text><text x="672.0" y="797.2" font-size="38" text-anchor="start" font-weight="normal" font-style="normal" >800</text><text x="672.0" y="845.2" font-size="38" text-anchor="start" font-weight="normal" font-style="normal" >1600</text><text x="672.0" y="893.2" font-size="38" text-anchor="start" font-weight="normal" font-style="normal" >3200</text><text x="859.0" y="180.0" font-size="60" text-anchor="end" font-weight="bold" font-style="normal" >a)</text><text x="865.5" y="788.0" font-size="60" text-anchor="end" font-weight="bold" font-style="normal" >b)</text><text x="516.5" y="34.5" font-size="46" text-anchor="middle"><tspan font-style="italic">E</tspan> [V]</text><text x="465" y="1263" font-size="46"><tspan font-style="italic">#</tspan><tspan font-size="31" dx="-1" dy="14">SUSD</tspan></text><text transform="translate(43,327.5) rotate(-90)" font-size="46.5" text-anchor="middle"><tspan font-style="italic">i</tspan> [mA cm<tspan font-size="29" dy="-18">-2</tspan><tspan dy="18">]</tspan></text><text transform="translate(48,936.5) rotate(-90)" font-size="46" text-anchor="middle"><tspan font-style="italic" font-size="44">ECSA</tspan><tspan dx="6"> [m</tspan><tspan font-size="28" dy="-20">2</tspan><tspan font-size="28" dx="-14" dy="32">Pt</tspan><tspan dy="-12"> g</tspan><tspan font-size="28" dy="-20">-1</tspan><tspan font-size="28" dx="-23" dy="32">Pt</tspan><tspan dy="-12">]</tspan></text></g>
</svg>
</body></html>
